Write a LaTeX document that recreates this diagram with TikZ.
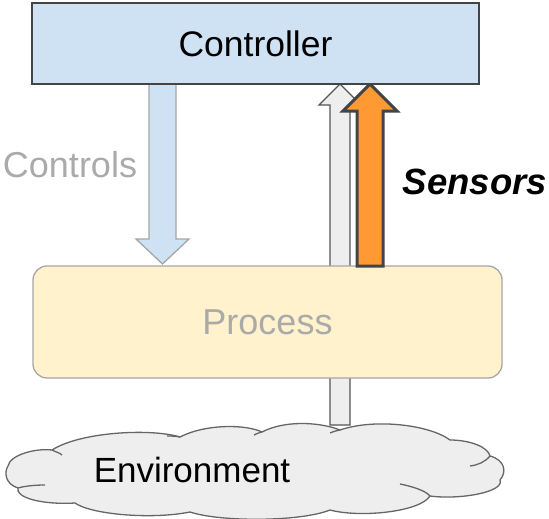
\documentclass[tikz,border=0pt]{standalone}
\usepackage{fontspec}
\setmainfont{Liberation Sans}
\definecolor{ctrlblue}{HTML}{CFE2F3}
\definecolor{procyel}{HTML}{FFF2CC}
\definecolor{lightgr}{HTML}{EEEEEE}
\definecolor{orangef}{HTML}{FF9933}
\definecolor{darkln}{HTML}{444444}
\definecolor{midln}{HTML}{555555}
\definecolor{softln}{HTML}{A6A6A6}
\definecolor{fadetxt}{HTML}{AAAAAA}
\tikzset{
  bigtext/.style={font=\fontsize{36}{43}\selectfont},
  ctrlbox/.style={draw=darkln,line width=1.5pt,fill=ctrlblue,minimum width=447pt,minimum height=81pt,inner sep=0pt},
  procbox/.style={draw=softln,line width=1.3pt,fill=procyel,rounded corners=14pt,minimum width=469pt,minimum height=112pt,inner sep=0pt},
  ctrlarrow/.style={draw=softln,line width=1.3pt,fill=ctrlblue,line join=miter},
  grayarrow/.style={draw=midln,line width=1.3pt,fill=lightgr,line join=miter},
  orangearrow/.style={draw=darkln,line width=3pt,fill=orangef,line join=miter},
  cloudstyle/.style={draw=black!60,line width=1.3pt,fill=lightgr},
  cloudline/.style={draw=black!60,line width=1.3pt}
}
\begin{document}
\begin{tikzpicture}[x=1pt,y=-1pt]
\useasboundingbox (0,0) rectangle (549,519);
% gray sensor arrow (behind process and cloud)
\draw[grayarrow] (330,425) -- (330,105) -- (319,105) -- (340,84) -- (361,105) -- (350,105) -- (350,425) -- cycle;
% process
\node[procbox,bigtext,text=fadetxt] (process) at (267.5,322) {Process};
% orange sensor arrow
\draw[orangearrow] (357,266) -- (357,111) -- (343,111) -- (370,84) -- (397,111) -- (383,111) -- (383,266) -- cycle;
% controls arrow
\draw[ctrlarrow] (149,84) -- (149,239) -- (136,239) -- (162.5,264) -- (189,239) -- (176,239) -- (176,84);
% controller
\node[ctrlbox,font=\fontsize{35.5}{43}\selectfont] (controller) at (255.5,43.5) {Controller};
% labels
\node[bigtext,text=fadetxt] (controls) at (70,165) {Controls};
\node[font=\fontsize{36.5}{43}\selectfont\bfseries\itshape] (sensors) at (475,182) {Sensors};
% environment cloud
\draw[cloudstyle] (8,466)
  .. controls (10,455) and (35,448) .. (52,450)
  .. controls (80,432) and (150,428) .. (180,437)
  .. controls (205,424) and (245,424) .. (262,432)
  .. controls (285,420) and (320,422) .. (340,430)
  .. controls (375,418) and (430,425) .. (450,440)
  .. controls (470,440) and (488,447) .. (490,456)
  .. controls (505,460) and (507,472) .. (500,480)
  .. controls (505,492) and (460,500) .. (430,496)
  .. controls (420,512) and (360,518) .. (330,510)
  .. controls (300,522) and (220,522) .. (190,512)
  .. controls (150,520) and (90,514) .. (75,503)
  .. controls (40,505) and (15,497) .. (18,488)
  .. controls (5,484) and (4,472) .. (8,466) -- cycle;
\draw[cloudline] (52,450) .. controls (56,452) and (60,453) .. (62,455);
\draw[cloudline] (180,437) .. controls (175,436) and (170,436) .. (167,436);
\draw[cloudline] (262,432) .. controls (258,433) and (256,434) .. (254,435);
\draw[cloudline] (340,430) .. controls (335,431) and (332,432) .. (330,433);
\draw[cloudline] (490,456) .. controls (485,462) and (478,465) .. (470,466);
\draw[cloudline] (430,496) .. controls (425,490) and (410,486) .. (400,484);
\draw[cloudline] (18,488) .. controls (25,486) and (35,485) .. (45,485);
\node[font=\fontsize{35}{42}\selectfont] (environment) at (192,470) {Environment};
\end{tikzpicture}
\end{document}
